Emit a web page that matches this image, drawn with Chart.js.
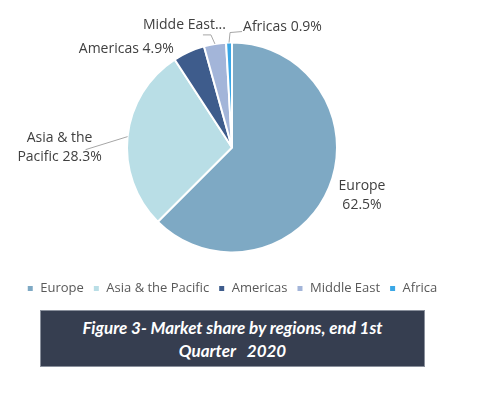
<!DOCTYPE html>
<html>
<head>
<meta charset="utf-8">
<script src="https://cdn.jsdelivr.net/npm/chart.js@4"></script>
<style>
  body { margin: 0; background: #fff; }
  #wrap { position: relative; width: 479px; height: 396px; }
  #caption {
    position: absolute; left: 40px; top: 310px; width: 385px; height: 57px;
    background: #363e50; border: 1px solid #8a909c; box-sizing: border-box;
    color: #fff; font-family: Lato, sans-serif; font-weight: bold; font-style: italic;
    font-size: 17px; line-height: 23px; text-align: center; padding-top: 5px;
    white-space: pre;
  }
</style>
</head>
<body>
<div id="wrap">
  <canvas id="chart" width="479" height="305"></canvas>
  <div id="caption">Figure 3- Market share by regions, end 1st
Quarter   2020</div>
</div>
<script>
// data
const regions = ["Europe", "Asia & the Pacific", "Americas", "Middle East", "Africa"];
const shares = [62.5, 28.3, 4.9, 3.4, 0.9];
const colors = ["#7ea9c4", "#b9dee6", "#3e5c8c", "#a3b5d9", "#3aa7e6"];

const pct = i => shares[i].toFixed(1) + "%";
// labels as printed next to the slices
const sliceLabels = [
  ["Europe", pct(0)],
  ["Asia & the", "Pacific " + pct(1)],
  ["Americas " + pct(2)],
  ["Midde East..."],
  ["Africas " + pct(4)]
];

// where each label sits, relative to the point on the rim at the slice's middle
const labelLayout = [
  { text: [33, 8], align: "center", leader: null },
  { text: [-68, 11], align: "center", leader: [[0, 0], [-42, 13]] },
  { text: [-15, -3], align: "right", leader: null },
  { text: [11, -19], align: "right", leader: [[0, 0], [-4, -9], [-12, -9]] },
  { text: [14, -16], align: "left", leader: [[0, 0], [1, -10], [13, -11]] }
];

const sliceLabelPlugin = {
  id: "sliceLabels",
  afterDatasetsDraw(chart) {
    const ctx = chart.ctx;
    const arcs = chart.getDatasetMeta(0).data;
    ctx.save();
    ctx.font = "14px 'Open Sans', sans-serif";
    ctx.textBaseline = "middle";
    arcs.forEach((arc, i) => {
      const p = arc.getProps(["x", "y", "startAngle", "endAngle", "outerRadius"], true);
      const mid = (p.startAngle + p.endAngle) / 2;
      const ex = p.x + Math.cos(mid) * p.outerRadius;
      const ey = p.y + Math.sin(mid) * p.outerRadius;
      const lay = labelLayout[i];
      if (lay.leader) {
        ctx.strokeStyle = "#a6a6a6";
        ctx.lineWidth = 1;
        ctx.beginPath();
        lay.leader.forEach((pt, k) => {
          if (k === 0) ctx.moveTo(ex + pt[0], ey + pt[1]);
          else ctx.lineTo(ex + pt[0], ey + pt[1]);
        });
        ctx.stroke();
      }
      const lines = sliceLabels[i];
      const lh = 19;
      const tx = ex + lay.text[0];
      let ty = ey + lay.text[1] - (lines.length - 1) * lh / 2;
      ctx.fillStyle = "#404040";
      ctx.textAlign = lay.align;
      lines.forEach(line => {
        ctx.fillText(line, tx, ty);
        ty += lh;
      });
    });
    ctx.restore();
  }
};

new Chart(document.getElementById("chart"), {
  type: "pie",
  data: {
    labels: regions,
    datasets: [{
      data: shares,
      backgroundColor: colors,
      borderColor: "#ffffff",
      borderWidth: 2,
      radius: 105
    }]
  },
  options: {
    responsive: false,
    devicePixelRatio: 1,
    animation: false,
    layout: { padding: { top: 22, left: 0, right: 15, bottom: 0 } },
    plugins: {
      tooltip: { enabled: false },
      legend: {
        position: "bottom",
        labels: {
          usePointStyle: true,
          pointStyle: "rect",
          boxWidth: 7,
          boxHeight: 7,
          padding: 9,
          color: "#595959",
          font: { family: "'Open Sans', sans-serif", size: 13 }
        }
      }
    }
  },
  plugins: [sliceLabelPlugin]
});
</script>
</body>
</html>
